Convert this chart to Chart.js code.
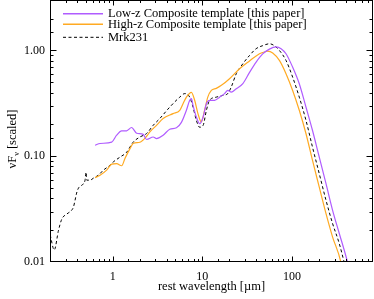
<!DOCTYPE html>
<html><head><meta charset="utf-8">
<script src="https://cdn.jsdelivr.net/npm/chart.js@4"></script>
<style>html,body{margin:0;padding:0;background:#fff}#wrap{width:374px;height:299px}</style>
</head><body><div id="wrap"><canvas id="c" width="374" height="299"></canvas></div>
<script>
const seriesLabels = ['Low-z Composite template [this paper]', 'High-z Composite template [this paper]', 'Mrk231'];
const lowzWave = [0.636,0.723,0.975,1.107,1.259,1.43,1.626,1.85,2.19,2.39,2.83,3.08,3.65,4.33,5.14,5.84,6.64,7.23,7.55,7.87,8.57,9.33,10.2,11.1,12.05,13.7,15.6,17.7,19.2,21.0,23.9,28.3,33.6,39.8,47.1,56.0,66.4,75.5,85.7,101.6,120.5,143,169,201,239,283,336,415,434];
const lowzFlux = [0.127,0.132,0.136,0.158,0.174,0.174,0.187,0.165,0.161,0.144,0.152,0.147,0.158,0.180,0.186,0.209,0.272,0.338,0.350,0.303,0.235,0.203,0.235,0.314,0.338,0.338,0.362,0.391,0.419,0.404,0.435,0.485,0.620,0.776,0.927,1.03,1.08,1.04,0.931,0.696,0.485,0.292,0.176,0.0985,0.0553,0.0310,0.0187,0.0100,0.0084];
const highzWave = [0.636,0.723,0.857,0.975,1.107,1.259,1.37,1.56,1.69,2.01,2.39,2.60,3.08,3.65,4.71,5.60,6.09,6.64,7.55,8.21,8.93,9.75,10.6,11.5,12.6,14.3,16.3,20.1,26.0,33.6,43.4,51.4,53.6,60.9,72.3,85.7,101.6,120.5,143,169,201,239,283,350,362];
const highzFlux = [0.0627,0.0662,0.0738,0.0841,0.0850,0.0813,0.0951,0.118,0.132,0.1356,0.1545,0.170,0.196,0.227,0.253,0.272,0.314,0.362,0.402,0.338,0.253,0.211,0.272,0.362,0.419,0.438,0.468,0.541,0.672,0.796,0.931,0.978,0.985,0.947,0.805,0.603,0.419,0.272,0.164,0.0917,0.0513,0.0288,0.0173,0.0100,0.0084];
const mrkWave = [0.201,0.223,0.249,0.271,0.308,0.350,0.365,0.381,0.396,0.415,0.453,0.492,0.505,0.514,0.560,0.609,0.692,0.787,0.933,1.016,1.205,1.43,1.69,2.01,2.39,2.83,3.35,4.34,5.60,6.36,7.23,7.87,8.57,9.33,10.2,11.1,12.05,14.3,16.9,19.2,21.0,23.9,28.3,33.6,39.8,47.1,56.0,63.5,72.3,85.7,101.6,120.5,143,169,201,239,283,336,381,401];
const mrkFlux = [0.0180,0.0130,0.0200,0.0255,0.0284,0.0310,0.0330,0.0385,0.0448,0.0499,0.0533,0.0594,0.0706,0.0594,0.0594,0.0620,0.0662,0.0738,0.0822,0.0883,0.098,0.109,0.1356,0.152,0.164,0.196,0.227,0.292,0.362,0.391,0.362,0.292,0.219,0.188,0.196,0.272,0.338,0.362,0.376,0.391,0.451,0.603,0.749,0.897,1.04,1.11,1.157,1.11,1.00,0.805,0.560,0.362,0.219,0.1224,0.0687,0.0385,0.0232,0.0150,0.0100,0.0084];
const xTickLabels = [1, 10, 100];
const yTickLabels = [0.01, 0.1, 1];
const xTitle = 'rest wavelength [\u00b5m]';

const pts = (w, f) => w.map((v, i) => ({x: v, y: f[i]}));
const PURPLE = '#b05cff', ORANGE = '#ffaa22';
const SERIF = '"Liberation Serif","DejaVu Serif",serif';

const isLabel = (v, list) => list.some(t => Math.abs(v - t) / t < 1e-6);
const isDecade = v => Math.abs(Math.log10(v) - Math.round(Math.log10(v))) < 1e-6;

const decor = {
  id: 'decor',
  afterDraw(chart) {
    const ctx = chart.ctx, a = chart.chartArea;
    const xs = chart.scales.x, ys = chart.scales.y;
    ctx.save();
    ctx.strokeStyle = '#000'; ctx.lineWidth = 1;
    ctx.strokeRect(a.left + 0.5, a.top + 0.5, a.right - a.left - 1, a.bottom - a.top - 1);
    ctx.beginPath();
    xs.ticks.forEach(t => {
      const px = Math.round(xs.getPixelForValue(t.value)) + 0.5;
      if (px < a.left + 1 || px > a.right - 1) return;
      const L = isDecade(t.value) ? 5.5 : 3;
      ctx.moveTo(px, a.bottom); ctx.lineTo(px, a.bottom - L);
      ctx.moveTo(px, a.top); ctx.lineTo(px, a.top + L);
    });
    ys.ticks.forEach(t => {
      const py = Math.round(ys.getPixelForValue(t.value)) + 0.5;
      if (py < a.top + 1 || py > a.bottom - 1) return;
      const L = isDecade(t.value) ? 6.5 : 3.5;
      ctx.moveTo(a.left, py); ctx.lineTo(a.left + L, py);
      ctx.moveTo(a.right, py); ctx.lineTo(a.right - L, py);
    });
    ctx.stroke();
    // legend
    const rows = [13.7, 24.3, 37.3];
    chart.data.datasets.forEach((ds, i) => {
      const y = a.top + rows[i];
      ctx.beginPath();
      ctx.strokeStyle = ds.borderColor;
      ctx.lineWidth = i < 2 ? 1.5 : 1;
      ctx.setLineDash(ds.borderDash || []);
      ctx.moveTo(a.left + 13, y); ctx.lineTo(a.left + 53, y);
      ctx.stroke();
      ctx.setLineDash([]);
      ctx.fillStyle = '#000';
      ctx.font = '12.5px ' + SERIF;
      ctx.textBaseline = 'middle';
      ctx.textAlign = 'left';
      ctx.fillText(ds.label, a.left + 58, y + 0.5);
    });
    // x title
    ctx.fillStyle = '#000';
    ctx.font = '12.5px ' + SERIF;
    ctx.textAlign = 'center'; ctx.textBaseline = 'alphabetic';
    ctx.fillText(xTitle, (a.left + a.right) / 2, 290);
    // y title with subscript
    ctx.save();
    ctx.translate(16, (a.top + a.bottom) / 2 + 8);
    ctx.rotate(-Math.PI / 2);
    const p1 = '\u03bdF', sub = '\u03bd', p2 = ' [scaled]';
    ctx.font = '12.5px ' + SERIF;
    const w1 = ctx.measureText(p1).width, w3 = ctx.measureText(p2).width;
    ctx.font = '8px ' + SERIF;
    const w2 = ctx.measureText(sub).width;
    let x0 = -(w1 + w2 + w3) / 2;
    ctx.textAlign = 'left';
    ctx.font = '12.5px ' + SERIF; ctx.fillText(p1, x0, 0);
    ctx.font = '8px ' + SERIF; ctx.fillText(sub, x0 + w1, 3);
    ctx.font = '12.5px ' + SERIF; ctx.fillText(p2, x0 + w1 + w2, 0);
    ctx.restore();
    ctx.restore();
  }
};

new Chart(document.getElementById('c'), {
  type: 'line',
  data: {
    datasets: [
      {label: seriesLabels[0], data: pts(lowzWave, lowzFlux), borderColor: PURPLE, borderWidth: 1.2},
      {label: seriesLabels[1], data: pts(highzWave, highzFlux), borderColor: ORANGE, borderWidth: 1.2},
      {label: seriesLabels[2], data: pts(mrkWave, mrkFlux), borderColor: '#000', borderWidth: 1, borderDash: [3, 2.5]}
    ]
  },
  options: {
    responsive: false, animation: false,
    layout: {padding: {top: 0, right: 1, left: 0, bottom: 0}},
    elements: {point: {radius: 0}, line: {cubicInterpolationMode: 'monotone', fill: false}},
    plugins: {legend: {display: false}, tooltip: {enabled: false}},
    scales: {
      x: {
        type: 'logarithmic', min: 0.2, max: 800,
        grid: {display: false, drawTicks: false}, border: {display: false},
        ticks: {autoSkip: false, maxRotation: 0, padding: 8, color: '#000', font: {family: SERIF, size: 12},
          callback: v => isLabel(v, xTickLabels) ? String(v) : ''},
        afterFit: s => { s.height = 37; s.paddingLeft = 0; s.paddingRight = 0; }
      },
      y: {
        type: 'logarithmic', min: 0.01, max: 3,
        grid: {display: false, drawTicks: false}, border: {display: false},
        ticks: {autoSkip: false, padding: 5, color: '#000', font: {family: SERIF, size: 12},
          callback: v => isLabel(v, yTickLabels) ? v.toFixed(2) : ''},
        afterFit: s => { s.width = 50; s.paddingTop = 0; s.paddingBottom = 0; }
      }
    }
  },
  plugins: [decor]
});
</script></body></html>
